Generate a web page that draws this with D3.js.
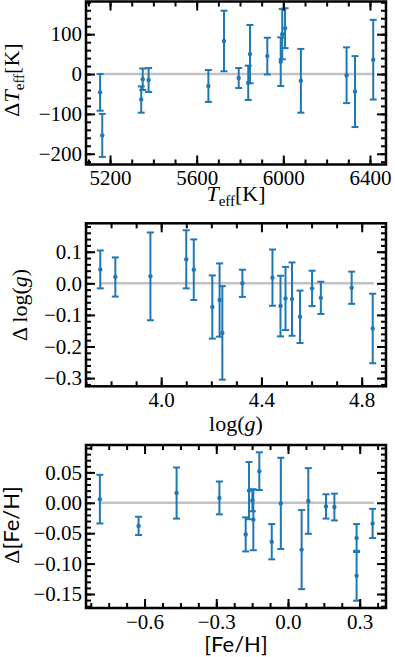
<!DOCTYPE html>
<html>
<head>
<meta charset="utf-8">
<script src="https://cdnjs.cloudflare.com/ajax/libs/d3/7.8.5/d3.min.js"></script>
<style>
body { margin: 0; background: #fff; }
svg { display: block; }
</style>
</head>
<body>
<div id="chart"></div>
<script>
// Teff panel
const teff = [5154, 5164, 5344, 5351, 5378, 5654, 5726, 5794, 5838, 5846, 5926, 5988, 5995, 6008, 6081, 6292, 6331, 6415]
const dTeff = [-46, -154, -64, -13, -15, -30, 83, -10, -22, 50, 45, 31, 100, 115, -17, -3, -44, 36]
const errTeff = [46, 54, 33, 27, 30, 40, 76, 25, 43, 73, 46, 61, 63, 50, 80, 70, 89, 100]

// log(g) panel
const logg = [3.757, 3.817, 3.957, 4.10, 4.13, 4.204, 4.233, 4.244, 4.324, 4.444, 4.476, 4.496, 4.522, 4.554, 4.602, 4.637, 4.76, 4.844]
const dLogg = [0.044, 0.020, 0.022, 0.076, 0.043, -0.075, -0.053, -0.157, 0.000, 0.018, -0.072, -0.048, -0.050, -0.106, -0.016, -0.046, -0.014, -0.143]
const errLogg = [0.060, 0.062, 0.139, 0.092, 0.096, 0.100, 0.116, 0.148, 0.043, 0.089, 0.096, 0.100, 0.116, 0.083, 0.056, 0.051, 0.051, 0.110]

// [Fe/H] panel
const feh = [-0.787, -0.625, -0.466, -0.287, -0.177, -0.163, -0.149, -0.145, -0.120, -0.068, -0.030, 0.057, 0.085, 0.159, 0.194, 0.287, 0.287, 0.354]
const dFeh = [0.006, -0.038, 0.016, 0.008, -0.052, 0.020, 0.004, -0.028, 0.052, -0.064, -0.001, -0.077, 0.003, -0.006, -0.007, -0.058, -0.120, -0.034]
const errFeh = [0.040, 0.015, 0.042, 0.027, 0.028, 0.047, 0.018, 0.050, 0.031, 0.029, 0.075, 0.065, 0.054, 0.020, 0.022, 0.023, 0.041, 0.024]

// tick labels
const teffTicks = [5200, 5600, 6000, 6400]
const dTeffTicks = [-200, -100, 0, 100]
const loggTicks = [4.0, 4.4, 4.8]
const dLoggTicks = [-0.3, -0.2, -0.1, 0.0, 0.1]
const fehTicks = [-0.6, -0.3, 0.0, 0.3]
const dFehTicks = [-0.15, -0.10, -0.05, 0.00, 0.05]

const width = 395
const height = 657
const left = 86
const right = 386
const ph = 163
const blue = "#1f77b4"
const serif = "'Liberation Serif', 'DejaVu Serif', serif"
const sans = "Lato, 'Open Sans', sans-serif"

const svg = d3.select("#chart").append("svg")
    .attr("width", width)
    .attr("height", height)

function minorTicks(domain, step) {
    const k0 = Math.ceil(domain[0] / step - 1e-9)
    const k1 = Math.floor(domain[1] / step + 1e-9)
    return d3.range(k0, k1 + 1).map(k => +(k * step).toFixed(6))
}

function panel(top, p) {
    const x = d3.scaleLinear().domain(p.xDomain).range([left, right])
    const y = d3.scaleLinear().domain(p.yDomain).range([top + ph, top])
    const g = svg.append("g")

    // zero reference line
    g.append("line")
        .attr("x1", x(d3.min(p.xs)))
        .attr("x2", x(d3.max(p.xs)))
        .attr("y1", y(0))
        .attr("y2", y(0))
        .attr("stroke", "#c2c2c2")
        .attr("stroke-width", 2.5)
        .attr("stroke-linecap", "square")

    const pts = p.xs.map((v, i) => ({ x: v, y: p.ys[i], e: p.errs[i] }))
    const bars = g.append("g").selectAll("g").data(pts).join("g")
        .attr("stroke", blue)
        .attr("stroke-width", 2)

    bars.append("line")
        .attr("x1", d => x(d.x)).attr("x2", d => x(d.x))
        .attr("y1", d => y(d.y - d.e)).attr("y2", d => y(d.y + d.e))
    bars.append("line")
        .attr("x1", d => x(d.x) - 3.5).attr("x2", d => x(d.x) + 3.5)
        .attr("y1", d => y(d.y + d.e)).attr("y2", d => y(d.y + d.e))
    bars.append("line")
        .attr("x1", d => x(d.x) - 3.5).attr("x2", d => x(d.x) + 3.5)
        .attr("y1", d => y(d.y - d.e)).attr("y2", d => y(d.y - d.e))
    bars.append("circle")
        .attr("cx", d => x(d.x))
        .attr("cy", d => y(d.y))
        .attr("r", 2.2)
        .attr("fill", blue)
        .attr("stroke", "none")

    const xMinor = minorTicks(p.xDomain, p.xStep)
    const yMinor = minorTicks(p.yDomain, p.yStep)

    const style = a => a
        .call(a => a.select(".domain").remove())
        .call(a => a.selectAll("line").attr("stroke", "#000").attr("stroke-width", 2))
        .attr("font-size", 21)
        .attr("font-family", serif)
        .call(a => a.selectAll("text").attr("fill", "#000"))

    g.append("g").attr("transform", `translate(0,${top + ph})`)
        .call(d3.axisBottom(x).tickValues(xMinor).tickSize(-5).tickFormat(""))
        .call(style)
    g.append("g").attr("transform", `translate(0,${top + ph})`)
        .call(d3.axisBottom(x).tickValues(p.xTicks).tickSize(-9).tickPadding(6).tickFormat(p.xFmt))
        .call(style)
    g.append("g").attr("transform", `translate(0,${top})`)
        .call(d3.axisTop(x).tickValues(xMinor).tickSize(-5).tickFormat(""))
        .call(style)
    g.append("g").attr("transform", `translate(0,${top})`)
        .call(d3.axisTop(x).tickValues(p.xTicks).tickSize(-9).tickFormat(""))
        .call(style)

    g.append("g").attr("transform", `translate(${left},0)`)
        .call(d3.axisLeft(y).tickValues(yMinor).tickSize(-5).tickFormat(""))
        .call(style)
    g.append("g").attr("transform", `translate(${left},0)`)
        .call(d3.axisLeft(y).tickValues(p.yTicks).tickSize(-9).tickPadding(4).tickFormat(p.yFmt))
        .call(style)
    g.append("g").attr("transform", `translate(${right},0)`)
        .call(d3.axisRight(y).tickValues(yMinor).tickSize(-5).tickFormat(""))
        .call(style)
    g.append("g").attr("transform", `translate(${right},0)`)
        .call(d3.axisRight(y).tickValues(p.yTicks).tickSize(-9).tickFormat(""))
        .call(style)

    g.append("rect")
        .attr("x", left).attr("y", top)
        .attr("width", right - left).attr("height", ph)
        .attr("fill", "none")
        .attr("stroke", "#000")
        .attr("stroke-width", 2.5)
}

panel(1.5, {
    xs: teff, ys: dTeff, errs: errTeff,
    xDomain: [5089, 6474], yDomain: [-227, 182],
    xTicks: teffTicks, yTicks: dTeffTicks,
    xStep: 100, yStep: 20,
    xFmt: d3.format("d"), yFmt: d3.format("d")
})
panel(223.3, {
    xs: logg, ys: dLogg, errs: errLogg,
    xDomain: [3.70, 4.897], yDomain: [-0.326, 0.19],
    xTicks: loggTicks, yTicks: dLoggTicks,
    xStep: 0.1, yStep: 0.02,
    xFmt: d3.format(".1f"), yFmt: d3.format(".1f")
})
panel(445, {
    xs: feh, ys: dFeh, errs: errFeh,
    xDomain: [-0.845, 0.41], yDomain: [-0.173, 0.095],
    xTicks: fehTicks, yTicks: dFehTicks,
    xStep: 0.075, yStep: 0.01,
    xFmt: d3.format(".1f"), yFmt: d3.format(".2f")
})

// axis labels
function label(x, y, rot, parts) {
    const t = svg.append("text")
        .attr("transform", `translate(${x},${y})` + (rot ? " rotate(-90)" : ""))
        .attr("text-anchor", "middle")
        .attr("font-size", 22)
        .attr("font-family", serif)
        .attr("fill", "#000")
    parts.forEach(s => {
        const sp = t.append("tspan").text(s.t)
        if (s.i) sp.attr("font-style", "italic")
        if (s.f) sp.attr("font-family", s.f)
        if (s.sub) sp.attr("font-size", 15).attr("dy", 5)
        if (s.up) sp.attr("dy", -5)
    })
}

label(19, 80, true, [{ t: "Δ" }, { t: "T", i: true }, { t: "eff", sub: true }, { t: "[K]", up: true }])
label(236, 201, false, [{ t: "T", i: true }, { t: "eff", sub: true }, { t: "[K]", up: true }])
label(27, 305, true, [{ t: "Δ log(" }, { t: "g", i: true }, { t: ")" }])
label(236, 431, false, [{ t: "log(" }, { t: "g", i: true }, { t: ")" }])
label(19, 525, true, [{ t: "Δ" }, { t: "[Fe/H]", f: sans }])
label(236, 652, false, [{ t: "[Fe/H]", f: sans }])
</script>
</body>
</html>
